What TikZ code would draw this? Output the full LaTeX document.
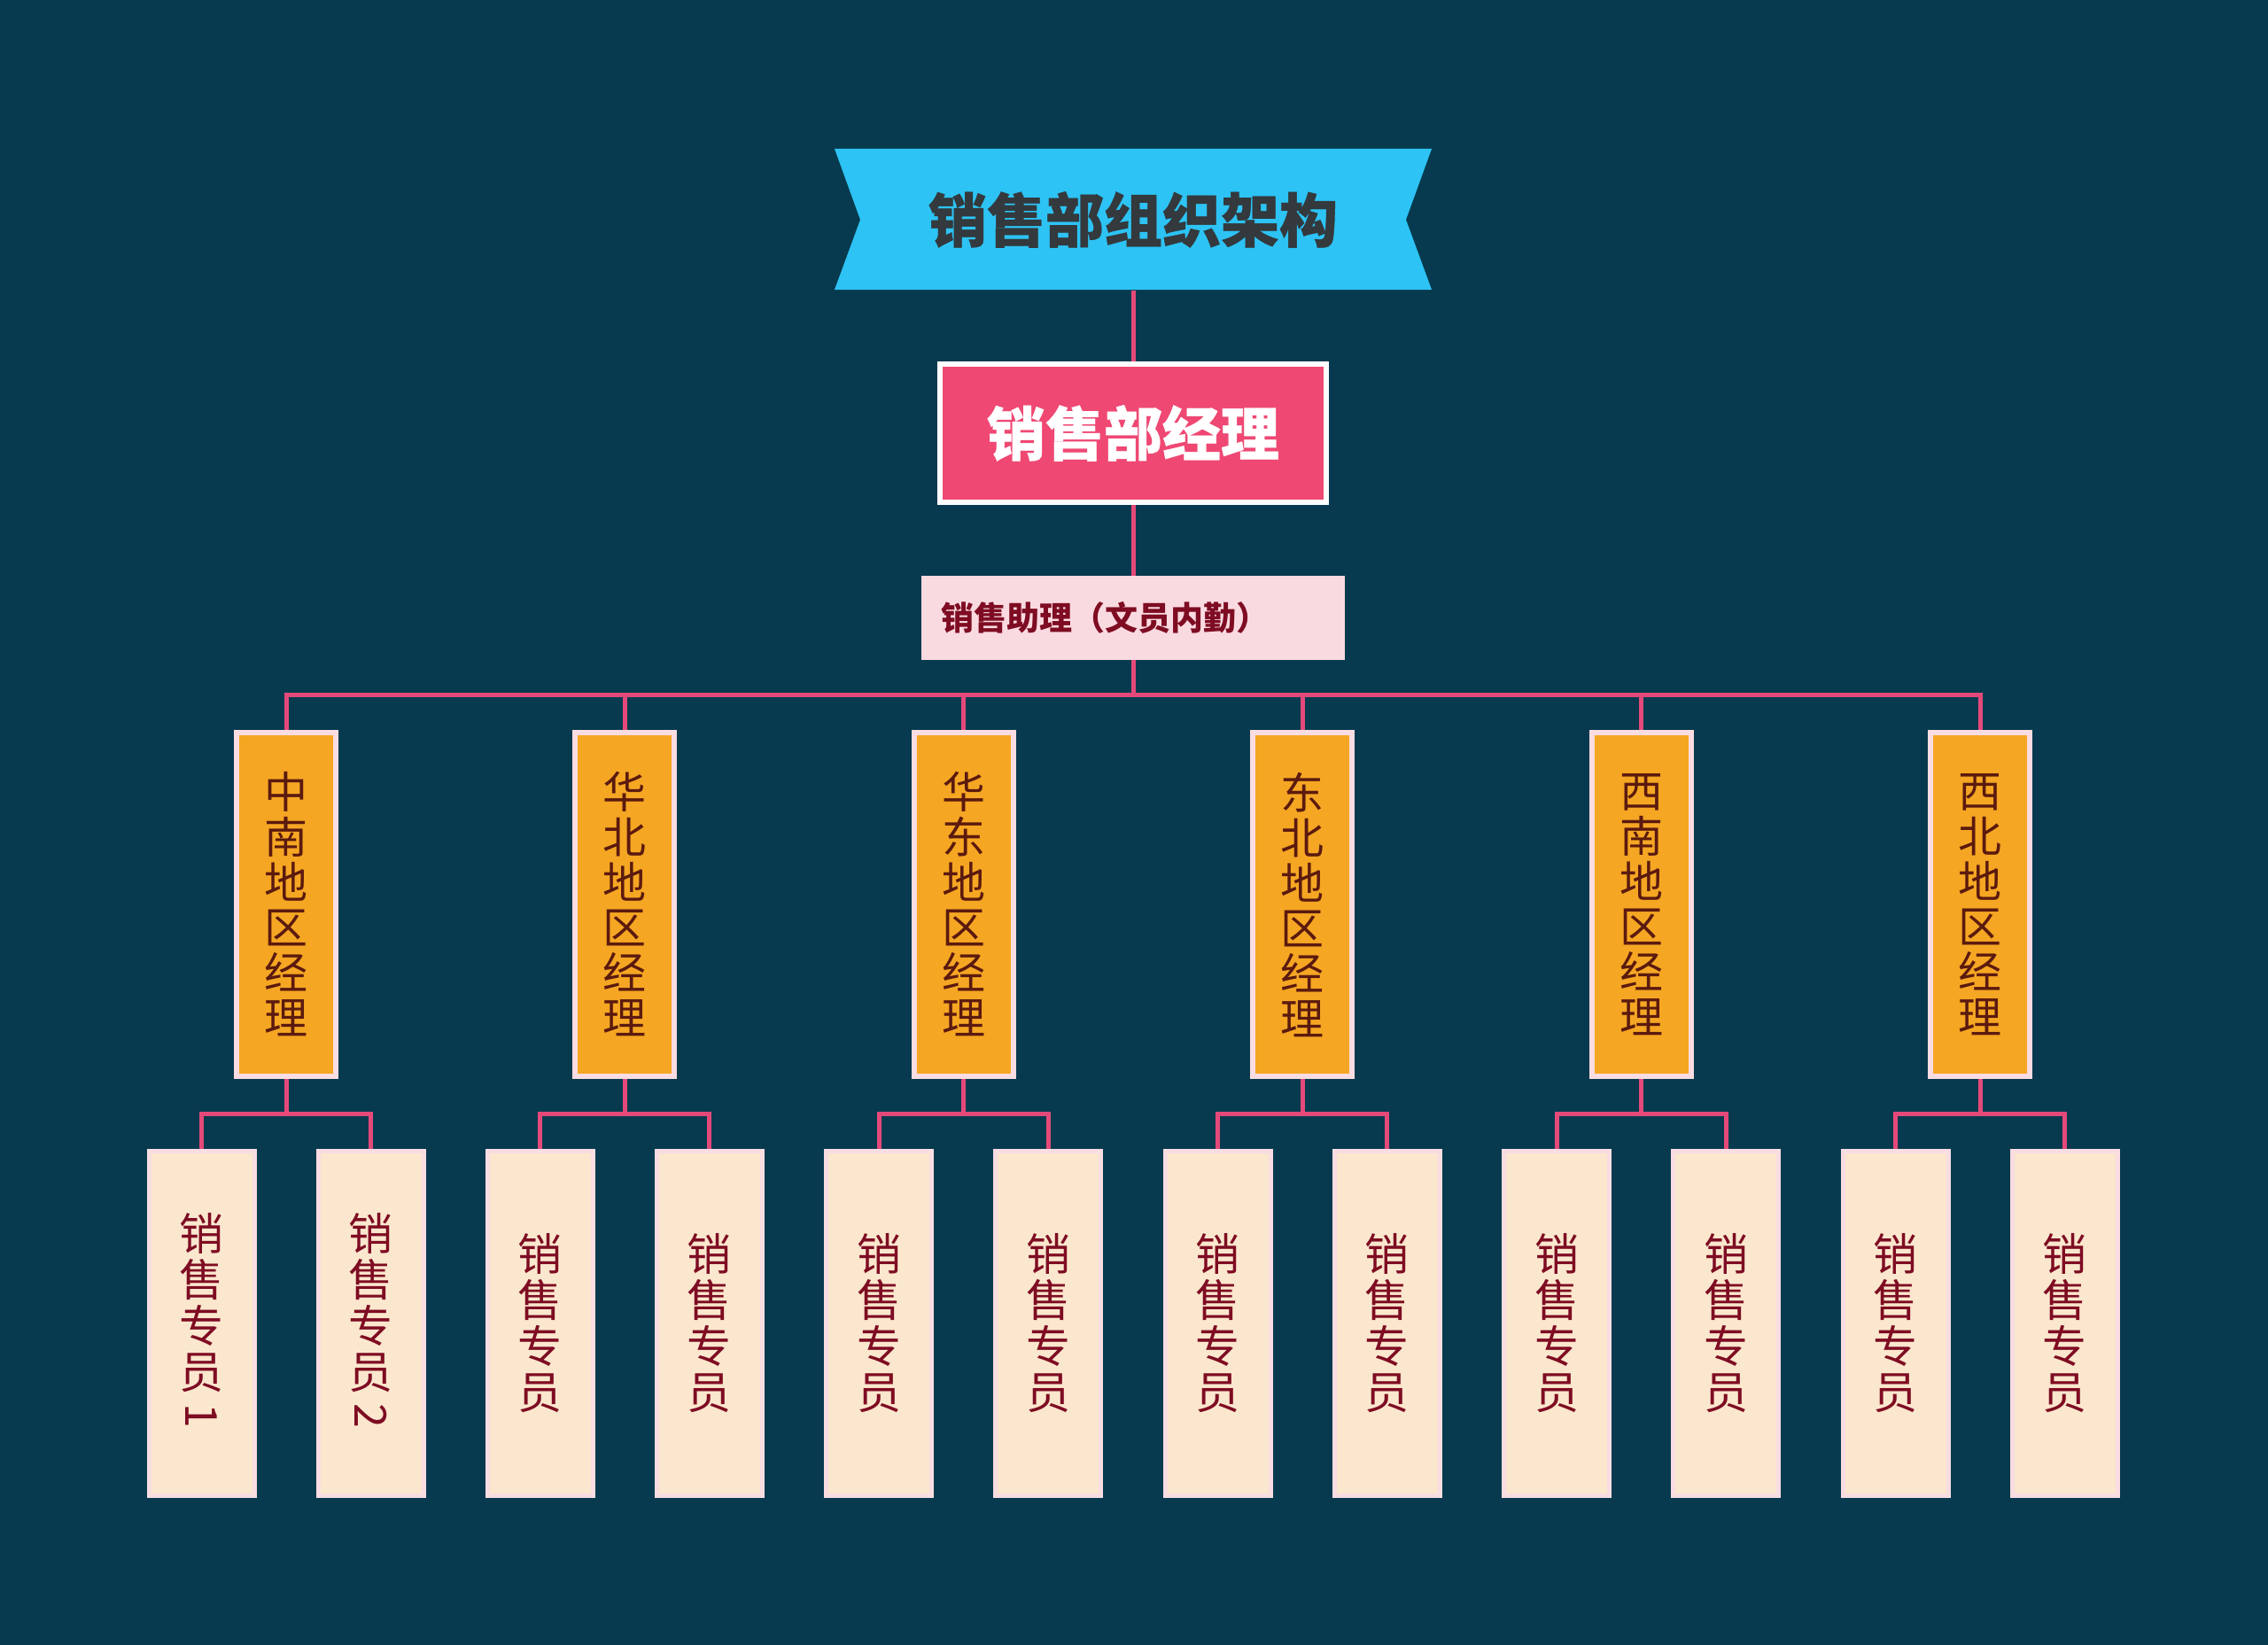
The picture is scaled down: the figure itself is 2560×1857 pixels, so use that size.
\documentclass[tikz,border=0pt]{standalone}
\usepackage{fontspec}
\usepackage{graphicx}
\newfontfamily\cjk{Noto Sans CJK SC}
\newfontfamily\cjkheavy[BoldFeatures={FakeBold=0.6}]{Noto Sans CJK SC}
\definecolor{bgc}{HTML}{073A4E}
\definecolor{linkc}{HTML}{E5497A}
\definecolor{bannerc}{HTML}{2DC3F4}
\definecolor{titlec}{HTML}{33393D}
\definecolor{mgrc}{HTML}{EF4873}
\definecolor{asstc}{HTML}{FADAE1}
\definecolor{darkred}{HTML}{7E0C22}
\definecolor{regfill}{HTML}{F5A623}
\definecolor{regtext}{HTML}{5B1A0E}
\definecolor{paleborder}{HTML}{F9DDE2}
\definecolor{leaffill}{HTML}{FAE7CE}
\begin{document}
\begin{tikzpicture}[x=1pt,y=-1pt,
  link/.style={draw=linkc, line width=5pt},
  titlebox/.style={minimum width=675pt, minimum height=159pt, inner sep=0pt, text=titlec,
    font=\cjkheavy\bfseries\fontsize{66}{70}\selectfont},
  mgrbox/.style={draw=white, line width=6pt, fill=mgrc, minimum width=436pt, minimum height=156pt,
    inner sep=0pt, text=white, font=\cjkheavy\bfseries\fontsize{66}{70}\selectfont},
  asstbox/.style={fill=asstc, minimum width=478pt, minimum height=95pt, inner xsep=22pt, inner ysep=0pt,
    text width=434pt, align=left, text=darkred, font=\cjk\bfseries\fontsize{37}{40}\selectfont},
  regbox/.style={draw=paleborder, line width=6pt, fill=regfill, minimum width=112pt, minimum height=388pt,
    inner sep=0pt, align=center, text=regtext, font=\cjk\fontsize{49}{51}\selectfont},
  leafbox/.style={draw=paleborder, line width=5pt, fill=leaffill, minimum width=119pt, minimum height=389pt,
    inner sep=0pt, align=center, text=darkred, font=\cjk\fontsize{50}{52}\selectfont}]
\useasboundingbox (0,0) rectangle (2560,1857);
\fill[bgc] (0,0) rectangle (2560,1857);
% banner
\fill[bannerc] (942,168) -- (1616,168) -- (1587,248) -- (1616,327) -- (942,327) -- (971,248) -- cycle;
\node[titlebox] (title) at (1279,248) {销售部组织架构};
\node[mgrbox] (mgr) at (1279,489) {销售部经理};
\node[asstbox] (asst) at (1279,697.5) {销售助理（文员内勤）};
\coordinate (bus) at (1279,784);
\coordinate (sub) at (0,1257);
% regional managers
\node[regbox] (r0) at ({1279+(0-2.5)*382.4},1021) {中\\南\\地\\区\\经\\理};
\node[regbox] (r1) at ({1279+(1-2.5)*382.4},1021) {华\\北\\地\\区\\经\\理};
\node[regbox] (r2) at ({1279+(2-2.5)*382.4},1021) {华\\东\\地\\区\\经\\理};
\node[regbox] (r3) at ({1279+(3-2.5)*382.4},1021) {东\\北\\地\\区\\经\\理};
\node[regbox] (r4) at ({1279+(4-2.5)*382.4},1021) {西\\南\\地\\区\\经\\理};
\node[regbox] (r5) at ({1279+(5-2.5)*382.4},1021) {西\\北\\地\\区\\经\\理};
% leaves
\node[leafbox] (l0a) at ({1279+(0-2.5)*382.4-95.5},1494) {销\\售\\专\\员\\\raisebox{35pt}{\rotatebox{-90}{1}}};
\node[leafbox] (l0b) at ({1279+(0-2.5)*382.4+95.5},1494) {销\\售\\专\\员\\\raisebox{35pt}{\rotatebox{-90}{2}}};
\foreach \i in {1,...,5}{
  \node[leafbox] (l\i a) at ({1279+(\i-2.5)*382.4-95.5},1494) {销\\售\\专\\员};
  \node[leafbox] (l\i b) at ({1279+(\i-2.5)*382.4+95.5},1494) {销\\售\\专\\员};
}
% connectors
\draw[link] (title.south) -- (mgr.north);
\draw[link] (mgr.south) -- (asst.north);
\draw[link] (asst.south) -- (bus);
\draw[link] (r0.north) -- (r0.north |- bus) -- (r5.north |- bus) -- (r5.north);
\foreach \i in {1,...,4}{
  \draw[link] (r\i.north) -- (r\i.north |- bus);
}
\foreach \i in {0,...,5}{
  \draw[link] (r\i.south) -- (r\i.south |- sub);
  \draw[link] (l\i a.north) -- (l\i a.north |- sub) -- (l\i b.north |- sub) -- (l\i b.north);
}
\end{tikzpicture}
\end{document}
